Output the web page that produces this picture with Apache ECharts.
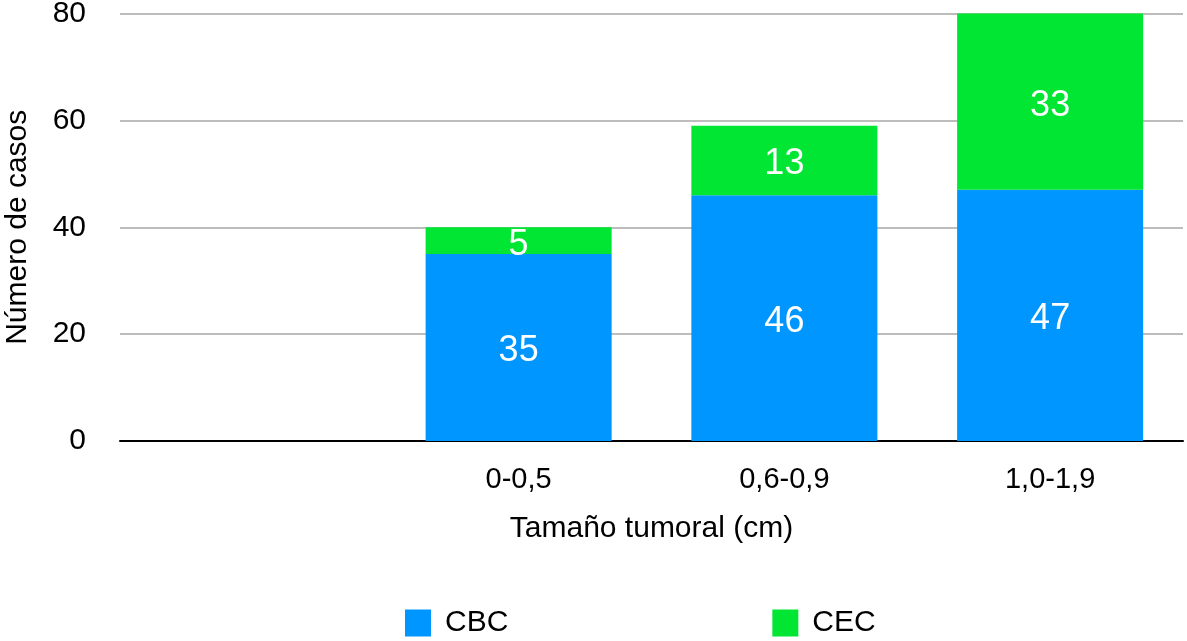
<!DOCTYPE html>
<html>
<head>
<meta charset="utf-8">
<script src="https://cdn.jsdelivr.net/npm/echarts@6/dist/echarts.min.js"></script>
<style>html,body{margin:0;padding:0;background:#fff}#c{width:1187px;height:641px}</style>
</head>
<body>
<div id="c"></div>
<script>
const categories = ['', '0-0,5', '0,6-0,9', '1,0-1,9'];
const cbc = [null, 35, 46, 47];
const cec = [null, 5, 13, 33];
const yTicks = [0, 20, 40, 60, 80];

const font = 'Liberation Sans, Arial, Helvetica, sans-serif';
const chart = echarts.init(document.getElementById('c'));
chart.setOption({
  animation: false,
  textStyle: { fontFamily: font },
  grid: { left: 120, right: 4, top: 13.5, bottom: 200, containLabel: false, outerBoundsMode: 'none' },
  legend: {
    top: 603, left: 400,
    itemWidth: 26, itemHeight: 27, itemGap: 264,
    icon: 'rect',
    textStyle: { fontSize: 30, color: '#000', fontFamily: font, padding: [0, 0, 0, 9] },
    data: ['CBC', 'CEC']
  },
  xAxis: {
    type: 'category', data: categories,
    name: 'Tamaño tumoral (cm)', nameLocation: 'middle', nameGap: 73,
    nameTextStyle: { fontSize: 30, color: '#000', fontFamily: font },
    axisLine: { lineStyle: { color: '#000', width: 2 } },
    axisTick: { show: false },
    axisLabel: { fontSize: 29, color: '#000', margin: 24, fontFamily: font }
  },
  yAxis: {
    type: 'value', min: 0, max: 80, interval: 20,
    name: 'Número de casos', nameLocation: 'middle', nameGap: 87,
    nameTextStyle: { fontSize: 30, color: '#000', fontFamily: font },
    axisLine: { show: false }, axisTick: { show: false },
    axisLabel: { fontSize: 30, color: '#000', margin: 34, fontFamily: font,
      formatter: v => yTicks.includes(v) ? String(v) : '' },
    splitLine: { lineStyle: { color: '#bdbdbd', width: 2 } }
  },
  series: [
    { name: 'CBC', type: 'bar', stack: 'a', data: cbc, barWidth: '70%',
      itemStyle: { color: '#0096FF' },
      label: { show: true, position: 'inside', color: '#fff', fontSize: 36, fontFamily: font, offset: [0, 4] } },
    { name: 'CEC', type: 'bar', stack: 'a', data: cec, barWidth: '70%',
      itemStyle: { color: '#00E632' },
      label: { show: true, position: 'inside', color: '#fff', fontSize: 36, fontFamily: font, offset: [0, 4] } }
  ]
});
</script>
</body>
</html>
